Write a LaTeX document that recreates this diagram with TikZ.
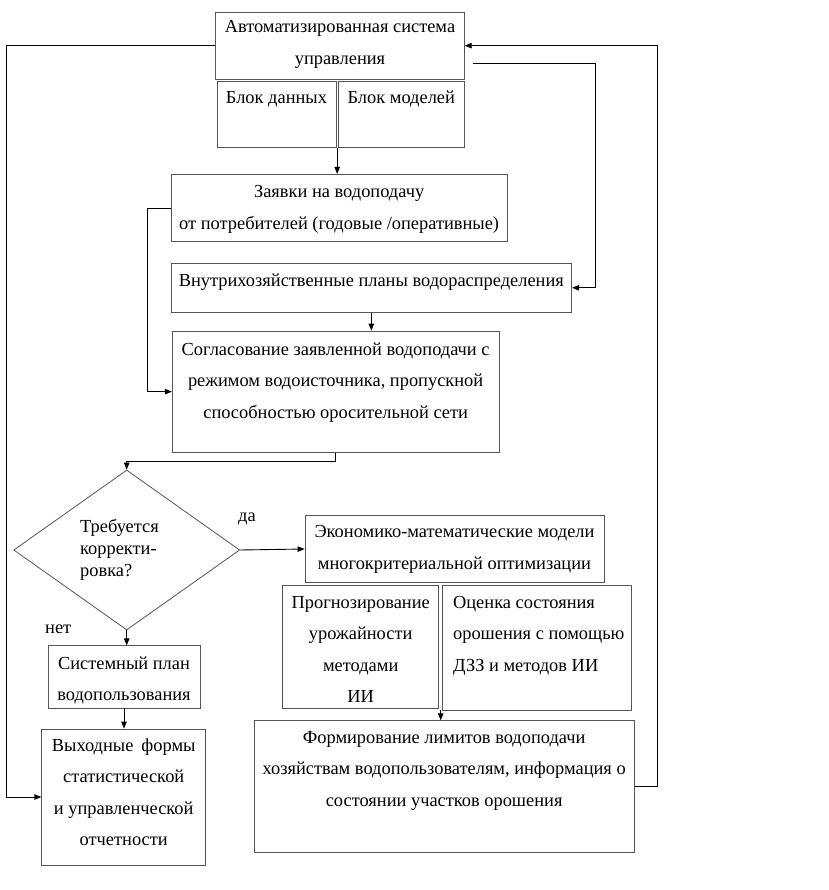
\documentclass[tikz,border=0pt]{standalone}
\usepackage{fontspec}
\setmainfont{Liberation Serif}
\usepackage{tikz}
\usetikzlibrary{arrows.meta,positioning,calc,fit,shapes.geometric}
\definecolor{BoxGray}{HTML}{555555}

\begin{document}
\begin{tikzpicture}[x=1pt,y=-1pt,>={Triangle[length=7pt,width=5.5pt]},
  blk/.style={draw=BoxGray,line width=.8pt,inner sep=0pt},
  txt/.style={inner sep=0pt,align=center,font=\fontsize{18.4}{31.6}\selectfont},
  lbl/.style={inner sep=0pt,font=\fontsize{18.4}{22}\selectfont},
  con/.style={->,line width=.9pt}]
\useasboundingbox (0,0) rectangle (828,890);

% boxes
\node[blk,fit={(215.7,12.3) (464.3,79)}] (asu) {};
\node[blk,fit={(217,81) (336,147.7)}] (dat) {};
\node[blk,fit={(338.3,81) (464.3,147.7)}] (mdl) {};
\node[blk,fit={(171,174.3) (507.3,241.7)}] (req) {};
\node[blk,fit={(171,263.3) (571.7,312.3)}] (plan) {};
\node[blk,fit={(172.3,331) (499,452.3)}] (agr) {};
\node[blk,diamond,minimum width=226pt,minimum height=160pt] (dec) at (126.7,550) {};
\node[blk,fit={(305,515.7) (604,582.3)}] (eco) {};
\node[blk,fit={(282.7,585.7) (438.7,708.3)}] (prg) {};
\node[blk,fit={(442.7,585.7) (631.7,710)}] (est) {};
\node[blk,fit={(254,720.7) (634.3,852.3)}] (form) {};
\node[blk,fit={(48,645.7) (200,708)}] (sys) {};
\node[blk,fit={(41.7,729) (205.7,865)}] (out) {};

% texts
\node[txt,below=8.7pt of asu.north] (asuT) {Автоматизированная система\\управления};
\node[txt,below=10.5pt of dat.north] (datT) {Блок данных};
\node[txt,below=10.5pt of mdl.north] (mdlT) {Блок моделей};
\node[txt,below=11.5pt of req.north] (reqT) {Заявки на водоподачу\\от потребителей (годовые /оперативные)};
\node[txt,below=10.5pt of plan.north] (planT) {Внутрихозяйственные планы водораспределения};
\node[txt,below=12pt of agr.north] (agrT) {Согласование заявленной водоподачи с\\режимом водоисточника, пропускной\\способностью оросительной сети};
\node[lbl,align=left,right=66.7pt of dec.west] (decT) {Требуется\\корректи-\\ровка?};
\node[txt,below=10pt of eco.north] (ecoT) {Экономико-математические модели\\многокритериальной оптимизации};
\node[txt,below=10.6pt of prg.north] (prgT) {Прогнозирование\\урожайности\\методами\\ИИ};
\node[txt,align=left,below right=10.6pt and 10.6pt of est.north west] (estT) {Оценка состояния\\орошения с помощью\\ДЗЗ и методов ИИ};
\node[txt,below=10.6pt of form.north] (formT) {Формирование лимитов водоподачи\\хозяйствам водопользователям, информация о\\состоянии участков орошения};
\node[txt,below=11pt of sys.north] (sysT) {Системный план\\водопользования};
\node[txt,below=9.5pt of out.north] (outT) {Выходные\hspace{8pt}формы\\статистической\\и управленческой\\отчетности};
\node[lbl,anchor=base west] (yes) at (238,521.7) {да};
\node[lbl,anchor=base west] (no) at (45,633) {нет};

% connectors
\coordinate (lft) at (6,0);
\coordinate (r1) at (595,0);
\coordinate (r2) at (657.5,0);
\coordinate (s1) at ([xshift=8.4pt,yshift=-18.3pt]asu.east);
\coordinate (mid1) at ($(dat.south east)!.5!(mdl.south west)$);
\coordinate (mid2) at ($(prg.south east)!.5!(est.south west)$);
\draw[con] (asu.west) -| (lft |- out.west) -- (out.west);
\draw[con] (s1) -| (r1 |- plan.east) -- (plan.east);
\draw[con] (form.east) -| (r2 |- asu.east) -- (asu.east);
\draw[con] (mid1) -- (mid1 |- req.north);
\draw[con] (req.west) -- ++(-23.5,0) |- (agr.west);
\draw[con] (plan.south) -- (plan.south |- agr.north);
\draw[con] (agr.south) -- ++(0,8.4) -| (dec.north);
\draw[con] (dec.east) -- (eco.west);
\draw[con] (dec.south) -- (dec.south |- sys.north);
\draw[con] (sys.south) -- (sys.south |- out.north);
\draw[con] (mid2) -- (mid2 |- form.north);
\end{tikzpicture}
\end{document}
